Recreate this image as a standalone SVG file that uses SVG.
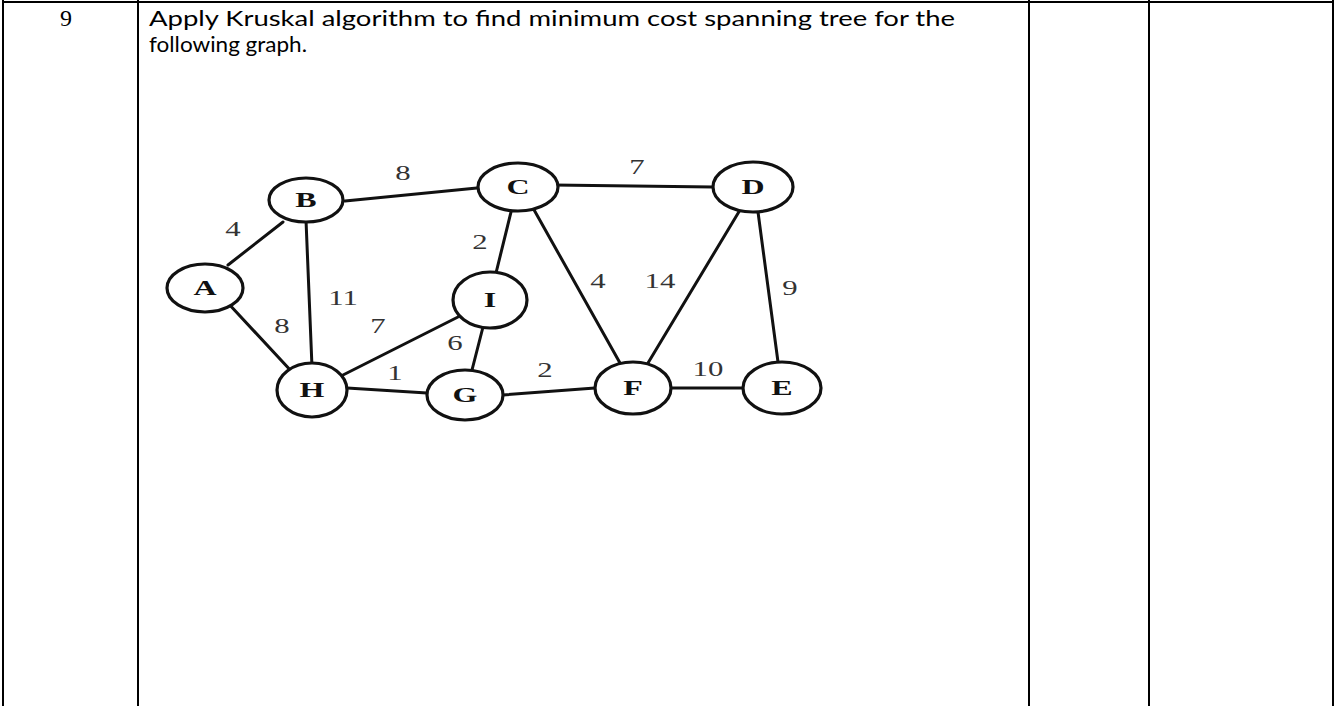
<svg xmlns="http://www.w3.org/2000/svg" width="1339" height="706" viewBox="0 0 1339 706">
<style>
.tbl{stroke:#000;stroke-width:2;fill:none}
.edge{stroke:#111;stroke-width:3;fill:none;stroke-linecap:round}
.node ellipse{fill:#fff;stroke:#111;stroke-width:3.2}
.node text{font-family:"Liberation Serif",serif;font-weight:bold;font-size:20px;fill:#111;text-anchor:middle}
.w{font-family:"Liberation Serif",serif;font-size:22px;fill:#333;text-anchor:middle}
.q{font-family:Lato,"Open Sans",sans-serif;font-size:21px;fill:#000}
.num{font-family:"Liberation Serif",serif;font-size:24px;fill:#000;text-anchor:middle}
</style>
<rect width="1339" height="706" fill="#fff"/>
<g id="table">
<line class="tbl" x1="3" y1="2" x2="1334" y2="2"/>
<line class="tbl" x1="3" y1="0" x2="3" y2="706"/>
<line class="tbl" x1="138" y1="0" x2="138" y2="706"/>
<line class="tbl" x1="1029" y1="0" x2="1029" y2="706"/>
<line class="tbl" x1="1149" y1="0" x2="1149" y2="706"/>
<line class="tbl" x1="1333" y1="0" x2="1333" y2="706"/>
<text class="num" x="66" y="26">9</text>
<text class="q" x="149" y="26" textLength="806" lengthAdjust="spacingAndGlyphs">Apply Kruskal algorithm to find minimum cost spanning tree for the</text>
<text class="q" x="149" y="52" textLength="158" lengthAdjust="spacingAndGlyphs">following graph.</text>
</g>
<g id="edges">
<line class="edge" x1="228" y1="265" x2="283" y2="222"/>
<line class="edge" x1="227" y1="302" x2="293" y2="373"/>
<line class="edge" x1="306" y1="220" x2="312" y2="367"/>
<line class="edge" x1="345" y1="201" x2="477" y2="188"/>
<line class="edge" x1="512" y1="208" x2="496" y2="273"/>
<line class="edge" x1="533" y1="208" x2="620" y2="363"/>
<line class="edge" x1="553" y1="185" x2="713" y2="187"/>
<line class="edge" x1="740" y1="210" x2="648" y2="363"/>
<line class="edge" x1="758" y1="212" x2="778" y2="362"/>
<line class="edge" x1="672" y1="388" x2="743" y2="388"/>
<line class="edge" x1="503" y1="395" x2="595" y2="388"/>
<line class="edge" x1="347" y1="388" x2="427" y2="393"/>
<line class="edge" x1="343" y1="375" x2="458" y2="317"/>
<line class="edge" x1="483" y1="327" x2="472" y2="370"/>
</g>
<g id="weights">
<text class="w" transform="translate(403 180) scale(1.4 1)">8</text>
<text class="w" transform="translate(233 236) scale(1.4 1)">4</text>
<text class="w" transform="translate(343 305) scale(1.4 1)">11</text>
<text class="w" transform="translate(282 333) scale(1.4 1)">8</text>
<text class="w" transform="translate(378 333) scale(1.4 1)">7</text>
<text class="w" transform="translate(480 249) scale(1.4 1)">2</text>
<text class="w" transform="translate(455 350) scale(1.4 1)">6</text>
<text class="w" transform="translate(395 380) scale(1.4 1)">1</text>
<text class="w" transform="translate(545 377) scale(1.4 1)">2</text>
<text class="w" transform="translate(637 174) scale(1.4 1)">7</text>
<text class="w" transform="translate(598 288) scale(1.4 1)">4</text>
<text class="w" transform="translate(660 288) scale(1.4 1)">14</text>
<text class="w" transform="translate(790 295) scale(1.4 1)">9</text>
<text class="w" transform="translate(708 376) scale(1.4 1)">10</text>
</g>
<g id="node-A" class="node"><ellipse cx="205" cy="288" rx="38" ry="24"/><text transform="translate(205 295) scale(1.6 1)">A</text></g>
<g id="node-B" class="node"><ellipse cx="306" cy="200" rx="37" ry="22"/><text transform="translate(306 207) scale(1.6 1)">B</text></g>
<g id="node-C" class="node"><ellipse cx="518" cy="187" rx="40" ry="24"/><text transform="translate(518 194) scale(1.6 1)">C</text></g>
<g id="node-D" class="node"><ellipse cx="753" cy="187" rx="40" ry="25"/><text transform="translate(753 194) scale(1.6 1)">D</text></g>
<g id="node-E" class="node"><ellipse cx="782" cy="388" rx="39" ry="26"/><text transform="translate(782 395) scale(1.6 1)">E</text></g>
<g id="node-F" class="node"><ellipse cx="633" cy="388" rx="38" ry="26"/><text transform="translate(633 395) scale(1.6 1)">F</text></g>
<g id="node-G" class="node"><ellipse cx="465" cy="395" rx="38" ry="25"/><text transform="translate(465 402) scale(1.6 1)">G</text></g>
<g id="node-H" class="node"><ellipse cx="312" cy="390" rx="35" ry="27"/><text transform="translate(312 397) scale(1.6 1)">H</text></g>
<g id="node-I" class="node"><ellipse cx="490" cy="300" rx="37" ry="28"/><text transform="translate(490 307) scale(1.6 1)">I</text></g>
</svg>
